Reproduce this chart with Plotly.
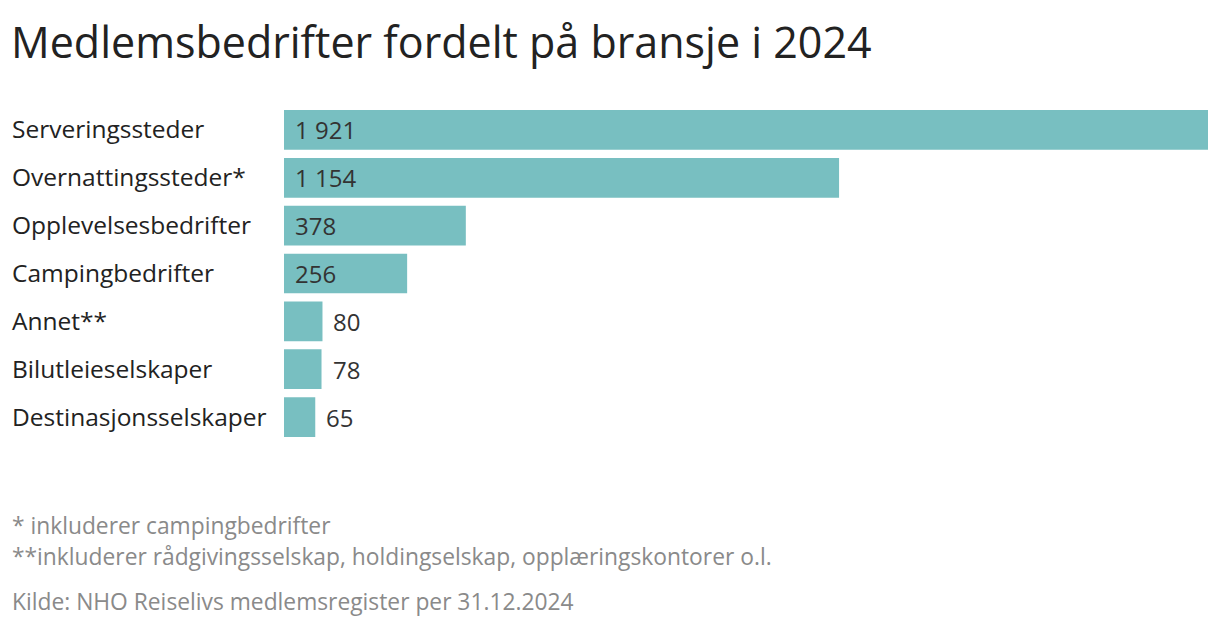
import plotly.graph_objects as go

categories = ["Serveringssteder", "Overnattingssteder*", "Opplevelsesbedrifter",
              "Campingbedrifter", "Annet**", "Bilutleieselskaper", "Destinasjonsselskaper"]
values = [1921, 1154, 378, 256, 80, 78, 65]
title_text = "Medlemsbedrifter fordelt på bransje i 2024"
footnotes = ["* inkluderer campingbedrifter",
             "**inkluderer rådgivingsselskap, holdingselskap, opplæringskontorer o.l.",
             "Kilde: NHO Reiselivs medlemsregister per 31.12.2024"]

BAR_COLOR = "#78bfc1"
FONT = "Open Sans"
OFF = 8  # page body margin
W, H = 1220 - OFF, 626 - OFF
ML, MR, MT, MB = 284 - OFF, 12, 106 - OFF, 185
plot_w = W - ML - MR
plot_h = H - MT - MB


def px_x(px):
    return (px - OFF - ML) / plot_w


def px_y(py):
    return 1 - (py - OFF - MT) / plot_h


fig = go.Figure(go.Bar(
    x=values, y=categories, orientation="h",
    marker=dict(color=BAR_COLOR, line=dict(width=0)),
    hoverinfo="skip",
))


def fmt(v):
    return f"{v:,}".replace(",", " ")


ann = []
for c, v in zip(categories, values):
    ann.append(dict(x=px_x(12), xref="paper", y=c, yref="y",
                    text=c, showarrow=False, xanchor="left", yanchor="middle",
                    xshift=-2, yshift=1, font=dict(family=FONT, size=24.5, color="#222222")))
    if v > 200:
        ann.append(dict(x=0, xref="x", y=c, yref="y", text=fmt(v), showarrow=False,
                        xanchor="left", yanchor="middle", xshift=9,
                        font=dict(family=FONT, size=24, color="#333333")))
    else:
        ann.append(dict(x=v, xref="x", y=c, yref="y", text=fmt(v), showarrow=False,
                        xanchor="left", yanchor="middle", xshift=9,
                        font=dict(family=FONT, size=24, color="#333333")))

ann.append(dict(x=px_x(12), xref="paper", y=px_y(41), yref="paper",
                text=title_text, showarrow=False, xanchor="left", yanchor="middle",
                xshift=-3, font=dict(family=FONT, size=43, color="#222222")))
for t, py in zip(footnotes, [525, 556, 601]):
    ann.append(dict(x=px_x(12), xref="paper", y=px_y(py), yref="paper", text=t,
                    showarrow=False, xanchor="left", yanchor="middle", xshift=-2,
                    font=dict(family=FONT, size=22.8, color="#8a8a8a")))

fig.update_layout(
    width=W, height=H,
    margin=dict(l=ML, r=MR, t=MT, b=MB),
    paper_bgcolor="white", plot_bgcolor="white",
    bargap=0.17,
    showlegend=False,
    xaxis=dict(range=[0, max(values)], visible=False, fixedrange=True),
    yaxis=dict(autorange="reversed", showticklabels=False, showgrid=False,
               zeroline=False, showline=False, ticks=""),
    annotations=ann,
    font=dict(family=FONT),
)

fig.write_html("out.html")
